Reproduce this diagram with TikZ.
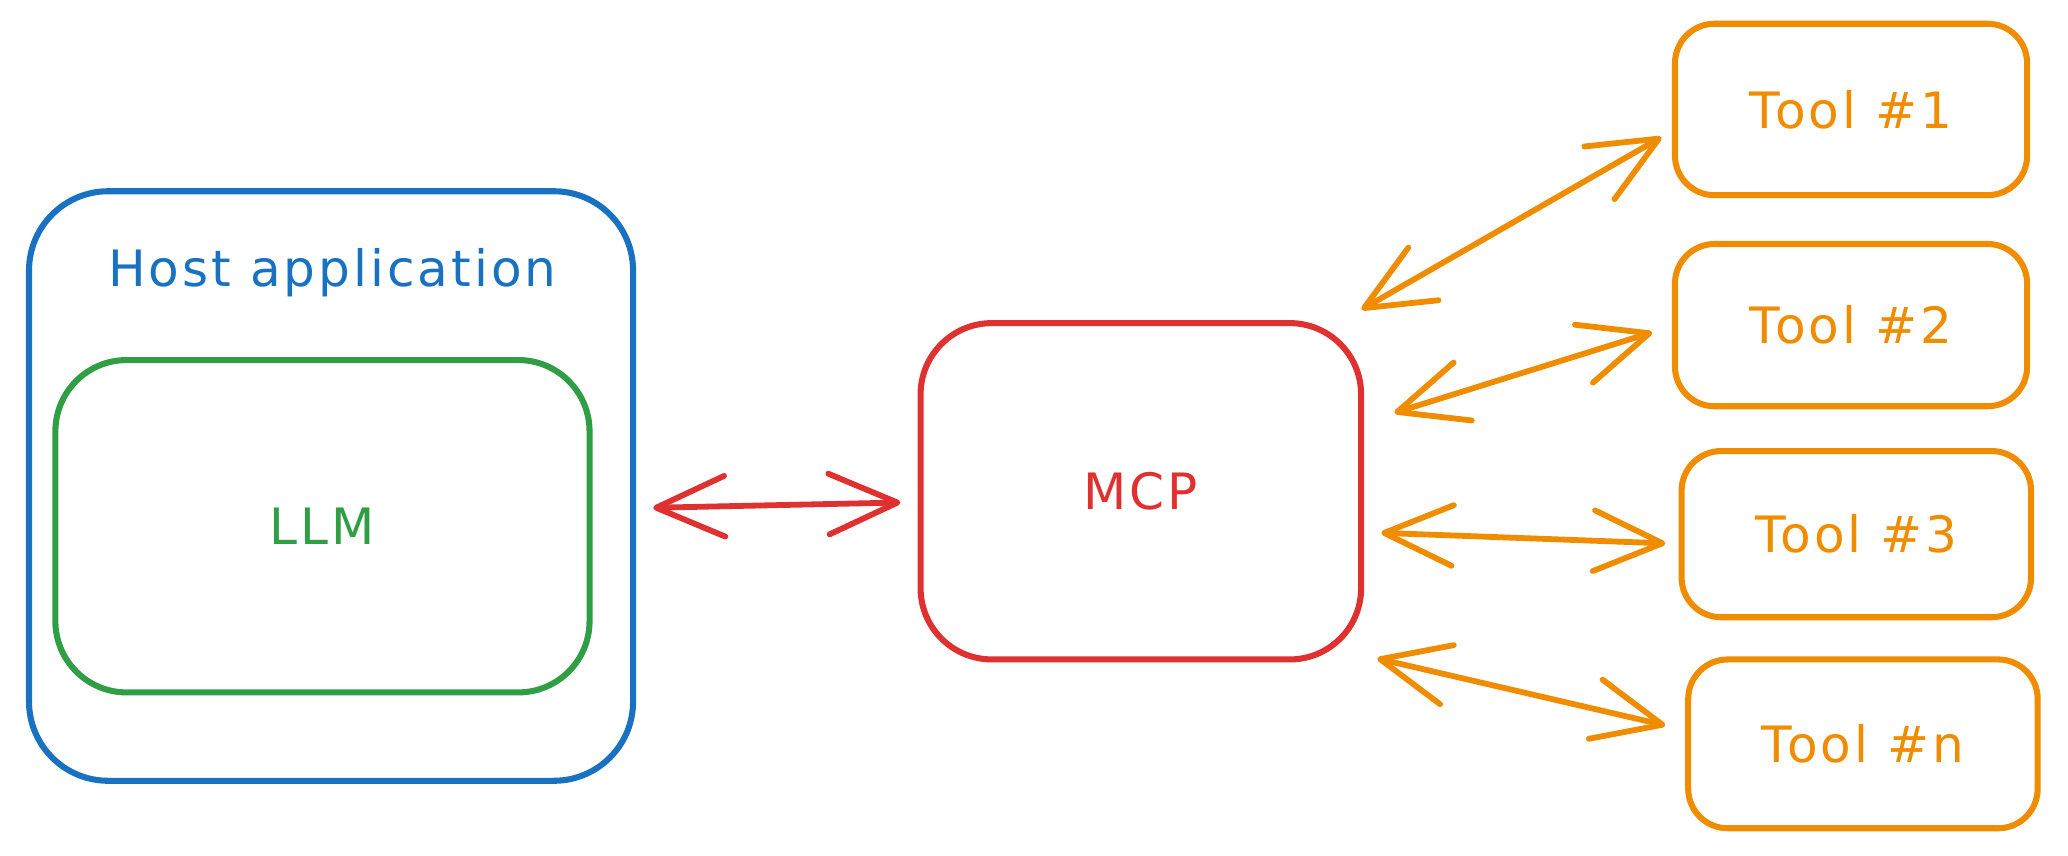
\documentclass[tikz,border=0pt]{standalone}
\usepackage{fontspec}
\newfontfamily\hand[LetterSpace=6]{DejaVu Sans}
\usetikzlibrary{arrows.meta,calc}
\definecolor{cblue}{HTML}{1971C2}
\definecolor{cgreen}{HTML}{2F9E44}
\definecolor{cred}{HTML}{E03131}
\definecolor{corange}{HTML}{F08C00}
\begin{document}
\begin{tikzpicture}[x=1pt,y=-1pt,
  box/.style={draw,line width=4.6pt,line join=round,inner sep=0pt,font=\hand\fontsize{38}{44}\selectfont},
  lbl/.style={inner sep=0pt,font=\hand\fontsize{38}{44}\selectfont},
  biarrow/.style={line width=4.4pt,line cap=round,{Straight Barb[length=52pt,width=46pt,round]}-{Straight Barb[length=52pt,width=46pt,round]}}]
\useasboundingbox (0,0) rectangle (1568,648.3);
% boxes
\node[box,cblue,rounded corners=60pt,minimum width=458pt,minimum height=447pt] (host) at (251,368.5) {};
\node[lbl,text=cblue] (hostlbl) at (252,207) {Host application};
\node[box,cgreen,text=cgreen,rounded corners=54pt,minimum width=405pt,minimum height=252pt] (llm) at (244.5,399) {LLM};
\node[box,cred,text=cred,rounded corners=54pt,minimum width=334pt,minimum height=255pt] (mcp) at (865,372.5) {MCP};
\node[box,corange,text=corange,rounded corners=30pt,minimum width=267pt,minimum height=130pt] (t1) at (1403.5,83) {Tool \#1};
\node[box,corange,text=corange,rounded corners=30pt,minimum width=267pt,minimum height=123pt] (t2) at (1403.5,246.5) {Tool \#2};
\node[box,corange,text=corange,rounded corners=30pt,minimum width=265pt,minimum height=126pt] (t3) at (1407.5,405) {Tool \#3};
\node[box,corange,text=corange,rounded corners=30pt,minimum width=265pt,minimum height=128pt] (tn) at (1412.5,564) {Tool \#n};
% arrow ends
\coordinate (hA) at ($(host.east)+(13,16.5)$);
\coordinate (mA) at ($(mcp.west)+(-13,8.5)$);
\coordinate (m1) at ($(mcp.north east)+(-2,-8)$);
\coordinate (e1) at ($(t1.west)+(-8,21)$);
\coordinate (m2) at ($(mcp.east)+(23,-59.5)$);
\coordinate (e2) at ($(t2.west)+(-15,5.5)$);
\coordinate (m3) at ($(mcp.east)+(13,31.5)$);
\coordinate (e3) at ($(t3.west)+(-10,7)$);
\coordinate (m4) at ($(mcp.south east)+(10,-3)$);
\coordinate (e4) at ($(tn.west)+(-15,-14)$);
% connectors
\draw[biarrow,cred] (hA) -- (mA);
\draw[biarrow,corange] (m1) -- (e1);
\draw[biarrow,corange] (m2) -- (e2);
\draw[biarrow,corange] (m3) -- (e3);
\draw[biarrow,corange] (m4) -- (e4);
\end{tikzpicture}
\end{document}
